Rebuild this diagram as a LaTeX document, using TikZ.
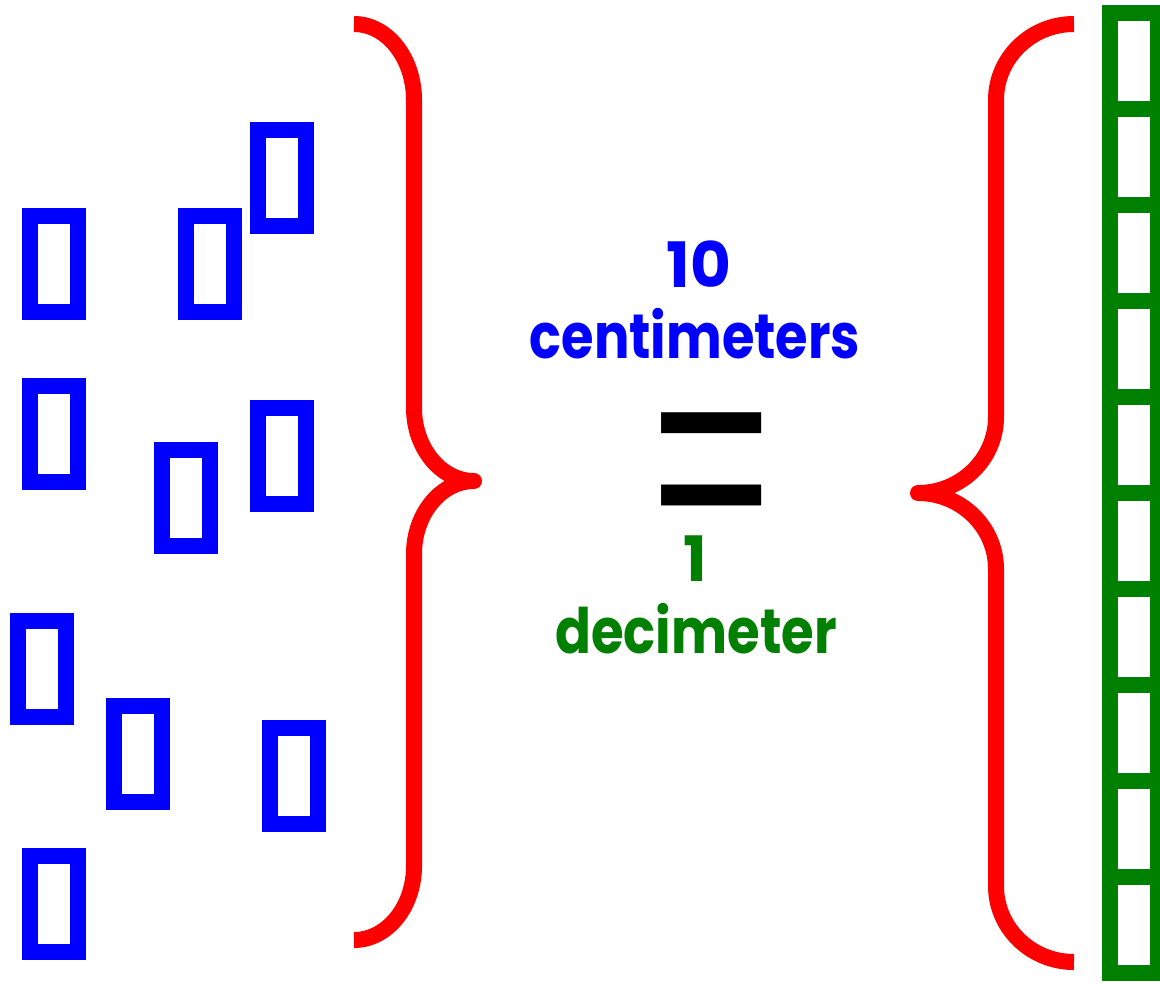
\documentclass[tikz,border=0pt]{standalone}
\usepackage{fontspec}
\setmainfont{Poppins}
\newfontfamily\eqfont{Liberation Sans}
\definecolor{myblue}{RGB}{0,0,255}
\definecolor{mygreen}{RGB}{0,128,0}
\definecolor{myred}{RGB}{255,0,0}
\begin{document}
\begin{tikzpicture}[x=0.75pt,y=-0.75pt,
  brick/.style={draw=myblue,line width=12pt},
  cell/.style={draw=mygreen,line width=12pt},
  brace/.style={draw=myred,line width=12pt,line join=round,line cap=butt},
  lbl/.style={anchor=base,inner sep=0pt,font=\bfseries\fontsize{47}{50}\selectfont}]
\useasboundingbox (0,0) rectangle (1160,983);
% loose blue centimetre pieces
\foreach \cx/\cy in {54/264,210/264,282/178,54/434,186/498,282/456,42/669,138/754,294/776,54/904}
  \draw[brick] (\cx-24,\cy-48) rectangle (\cx+24,\cy+48);
% green decimetre strip
\foreach \k in {0,...,9}
  \draw[cell] (1110,13+96*\k) rectangle (1158,109+96*\k);
% left brace
\draw[brace] (354,24) .. controls (387,24) and (414,58) .. (414,100)
  -- (414,408) .. controls (414,448) and (441,481) .. (474,481)
  .. controls (441,481) and (414,514) .. (414,554)
  -- (414,866) .. controls (414,907) and (387,940) .. (354,940);
% right brace
\draw[brace] (1074,24) .. controls (1031,24) and (996,58) .. (996,100)
  -- (996,417) .. controls (996,459) and (961,493) .. (918,493)
  .. controls (961,493) and (996,527) .. (996,569)
  -- (996,886) .. controls (996,928) and (1031,962) .. (1074,962);
% labels
\node[lbl,text=myblue] (ten) at (699,287) {10};
\node[lbl,text=myblue,xscale=0.84] (cm) at (695,358) {centimeters};
\node[anchor=center,inner sep=0pt,xscale=1.03,yscale=1.446,font=\eqfont\fontsize{150}{150}\selectfont] (eq) at (712,459) {\raisebox{-25.3pt}[48.75pt][0pt]{=}};
\node[lbl,text=mygreen] (one) at (695,581) {1};
\node[lbl,text=mygreen,xscale=0.845] (dm) at (696,653) {decimeter};
\end{tikzpicture}
\end{document}
